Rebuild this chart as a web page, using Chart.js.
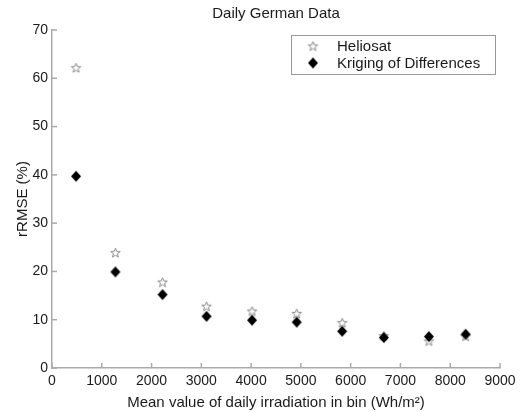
<!DOCTYPE html>
<html>
<head>
<meta charset="utf-8">
<script src="https://cdn.jsdelivr.net/npm/chart.js@4.4.0/dist/chart.umd.min.js"></script>
<style>
  html, body { margin: 0; padding: 0; background: #fff; }
  #wrap { width: 528px; height: 412px; position: relative; }
</style>
</head>
<body>
<div id="wrap"><canvas id="myChart"></canvas></div>
<script>
// values
const binMean = [483, 1274, 2220, 3105, 4018, 4916, 5829, 6667, 7572, 8310];
const heliosat = [62.2, 23.9, 17.8, 12.8, 11.8, 11.3, 9.4, 6.7, 5.6, 6.6];
const kriging = [39.7, 19.9, 15.2, 10.7, 9.9, 9.5, 7.6, 6.3, 6.5, 7.0];
const xTicks = [0, 1000, 2000, 3000, 4000, 5000, 6000, 7000, 8000, 9000];
const yTicks = [0, 10, 20, 30, 40, 50, 60, 70];

const FONT = '"Liberation Sans", Arial, Helvetica, sans-serif';
const axisGray = '#aaaaaa';
const textColor = '#1a1a1a';

function starImage(r) {
    var c = document.createElement('canvas');
    var s = Math.ceil(r * 2 + 3);
    c.width = s; c.height = s;
    var g = c.getContext('2d');
    var cx = s / 2, cy = s / 2 + 0.5;
    g.beginPath();
    for (var i = 0; i < 10; i++) {
        var rr = i % 2 === 0 ? r : r * 0.42;
        var a = -Math.PI / 2 + i * Math.PI / 5;
        var px = cx + rr * Math.cos(a), py = cy + rr * Math.sin(a);
        if (i === 0) g.moveTo(px, py); else g.lineTo(px, py);
    }
    g.closePath();
    g.fillStyle = '#ffffff';
    g.fill();
    g.strokeStyle = '#8a8a8a';
    g.lineWidth = 1;
    g.stroke();
    return c;
}

function diamondImage(w, h) {
    var c = document.createElement('canvas');
    c.width = w + 2; c.height = h + 2;
    var g = c.getContext('2d');
    g.beginPath();
    g.moveTo(1 + w / 2, 1);
    g.lineTo(1 + w, 1 + h / 2);
    g.lineTo(1 + w / 2, 1 + h);
    g.lineTo(1, 1 + h / 2);
    g.closePath();
    g.fillStyle = '#000000';
    g.fill();
    return c;
}

const starImg = starImage(5);
const diamondImg = diamondImage(10, 11);

function toPoints(xs, ys) {
    return xs.map(function (x, i) { return { x: x, y: ys[i] }; });
}

// ticks pointing inwards, title and boxed legend
const decorations = {
    id: 'decorations',
    afterDraw(chart) {
        var ctx = chart.ctx;
        var area = chart.chartArea;
        var xs = chart.scales.x, ys = chart.scales.y;
        ctx.save();
        ctx.strokeStyle = axisGray;
        ctx.lineWidth = 1.5;
        xTicks.forEach(function (t) {
            var px = xs.getPixelForValue(t);
            ctx.beginPath();
            ctx.moveTo(px, area.bottom);
            ctx.lineTo(px, area.bottom - 5);
            ctx.stroke();
        });
        yTicks.forEach(function (t) {
            var py = ys.getPixelForValue(t);
            ctx.beginPath();
            ctx.moveTo(area.left, py);
            ctx.lineTo(area.left + 5, py);
            ctx.stroke();
        });

        ctx.fillStyle = textColor;
        ctx.font = '15px ' + FONT;
        ctx.textAlign = 'center';
        ctx.textBaseline = 'middle';
        ctx.fillText('Daily German Data', (area.left + area.right) / 2, 14);

        // legend
        var lx = 291.5, ly = 35.5, lw = 204, lh = 39;
        ctx.fillStyle = '#ffffff';
        ctx.fillRect(lx, ly, lw, lh);
        ctx.strokeStyle = '#999999';
        ctx.lineWidth = 1;
        ctx.strokeRect(lx, ly, lw, lh);
        var rows = [
            { img: starImg, label: 'Heliosat', y: 46 },
            { img: diamondImg, label: 'Kriging of Differences', y: 63 }
        ];
        ctx.textAlign = 'left';
        rows.forEach(function (r) {
            ctx.drawImage(r.img, 313 - r.img.width / 2, r.y - r.img.height / 2);
            ctx.fillStyle = textColor;
            ctx.fillText(r.label, 337, r.y + 1);
        });
        ctx.restore();
    }
};

const config = {
    type: 'scatter',
    data: {
        datasets: [
            {
                label: 'Kriging of Differences',
                data: toPoints(binMean, kriging),
                pointStyle: diamondImg,
                order: 0
            },
            {
                label: 'Heliosat',
                data: toPoints(binMean, heliosat),
                pointStyle: starImg,
                order: 1
            }
        ]
    },
    options: {
        responsive: true,
        maintainAspectRatio: false,
        animation: false,
        layout: { padding: { left: 0, right: 28, top: 30, bottom: 0 } },
        plugins: {
            legend: { display: false },
            title: { display: false },
            tooltip: { enabled: false }
        },
        scales: {
            x: {
                type: 'linear',
                min: 0,
                max: 9000,
                afterBuildTicks: function (scale) {
                    scale.ticks = xTicks.map(function (v) { return { value: v }; });
                },
                afterFit: function (scale) { scale.height = 44; },
                grid: { display: false, drawTicks: false },
                border: { display: true, color: axisGray, width: 1.5 },
                ticks: {
                    color: textColor,
                    font: { family: FONT, size: 14 },
                    padding: 5,
                    maxRotation: 0,
                    autoSkip: false,
                    callback: function (v) { return String(v); }
                },
                title: {
                    display: true,
                    text: 'Mean value of daily irradiation in bin (Wh/m\u00B2)',
                    color: textColor,
                    font: { family: FONT, size: 15 },
                    padding: { top: 0, bottom: 0 }
                }
            },
            y: {
                type: 'linear',
                min: 0,
                max: 70,
                afterBuildTicks: function (scale) {
                    scale.ticks = yTicks.map(function (v) { return { value: v }; });
                },
                afterFit: function (scale) { scale.width = 52; },
                grid: { display: false, drawTicks: false },
                border: { display: true, color: axisGray, width: 1.5 },
                ticks: {
                    color: textColor,
                    font: { family: FONT, size: 14 },
                    padding: 4,
                    autoSkip: false
                },
                title: {
                    display: true,
                    text: 'rRMSE (%)',
                    color: textColor,
                    font: { family: FONT, size: 15 },
                    padding: { top: 14, bottom: 0 }
                }
            }
        }
    },
    plugins: [decorations]
};

const ctx = document.getElementById('myChart').getContext('2d');
const myChart = new Chart(ctx, config);
</script>
</body>
</html>
